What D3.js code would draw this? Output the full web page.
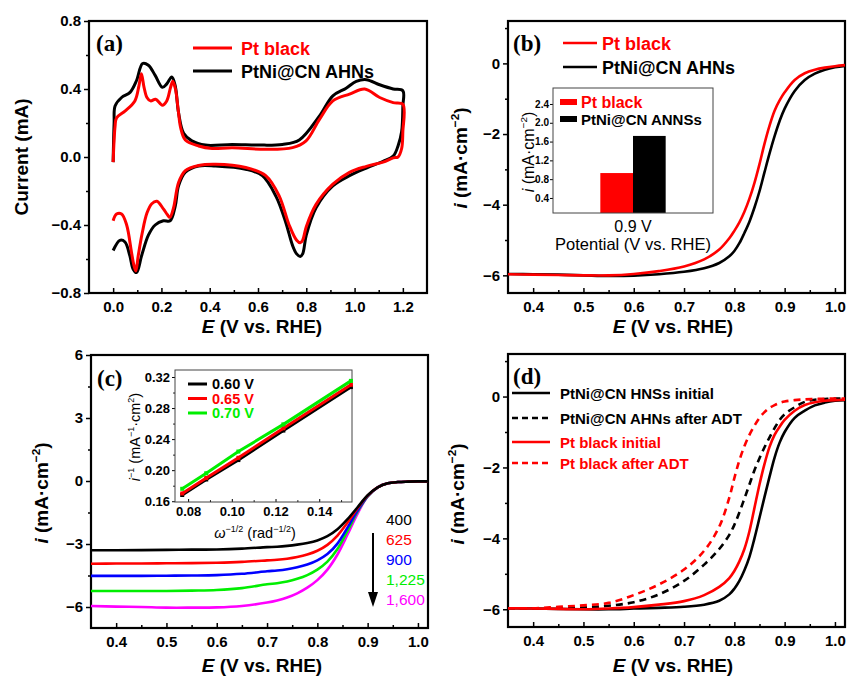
<!DOCTYPE html>
<html>
<head>
<meta charset="utf-8">
<script src="https://cdn.jsdelivr.net/npm/d3@7"></script>
<style>
  body { margin: 0; background: #fff; }
  svg text { font-family: "Liberation Sans", Arial, Helvetica, sans-serif; }
</style>
</head>
<body>
<svg id="fig" width="847" height="676"></svg>
<script>
// ---------- data ----------

// (a) cyclic voltammograms, [E, I] in scan order
const cvPtNi = [[0,-0.03],[0.004,0.2],[0.008,0.30],[0.035,0.35],[0.07,0.38],[0.097,0.45],[0.122,0.55],[0.146,0.54],
  [0.174,0.48],[0.204,0.41],[0.222,0.43],[0.243,0.47],[0.257,0.42],[0.271,0.26],[0.292,0.14],[0.326,0.095],[0.382,0.07],
  [0.493,0.074],[0.604,0.07],[0.701,0.074],[0.771,0.10],[0.854,0.24],[0.91,0.36],[0.965,0.405],[1.007,0.445],[1.049,0.455],
  [1.104,0.425],[1.16,0.40],[1.2,0.39],[1.2,0.30],[1.195,0.15],[1.18,0.065],[1.16,0.005],[1.118,-0.025],[1.049,-0.065],
  [0.979,-0.11],[0.91,-0.17],[0.84,-0.30],[0.80,-0.46],[0.785,-0.57],[0.775,-0.585],[0.76,-0.57],[0.743,-0.52],[0.715,-0.385],
  [0.674,-0.23],[0.618,-0.11],[0.549,-0.072],[0.424,-0.053],[0.354,-0.053],[0.299,-0.09],[0.271,-0.17],[0.257,-0.29],
  [0.236,-0.375],[0.208,-0.375],[0.174,-0.40],[0.146,-0.46],[0.118,-0.58],[0.097,-0.68],[0.083,-0.66],[0.069,-0.58],
  [0.049,-0.50],[0.028,-0.49],[0,-0.55]];
const cvPt = [[0,-0.03],[0.004,0.1],[0.008,0.18],[0.014,0.23],[0.049,0.27],[0.09,0.33],[0.107,0.42],[0.117,0.49],[0.128,0.41],
  [0.14,0.35],[0.155,0.33],[0.176,0.34],[0.204,0.305],[0.222,0.33],[0.238,0.41],[0.247,0.445],[0.258,0.40],[0.27,0.27],
  [0.28,0.17],[0.299,0.10],[0.354,0.065],[0.41,0.05],[0.493,0.055],[0.632,0.045],[0.743,0.055],[0.799,0.095],[0.854,0.22],
  [0.91,0.33],[0.979,0.37],[1.042,0.40],[1.104,0.35],[1.16,0.32],[1.2,0.31],[1.2,0.15],[1.195,0.05],[1.18,0.0],[1.16,-0.005],
  [1.118,-0.03],[1.049,-0.055],[0.979,-0.09],[0.91,-0.16],[0.84,-0.28],[0.80,-0.41],[0.785,-0.49],[0.775,-0.505],[0.76,-0.49],
  [0.729,-0.40],[0.688,-0.23],[0.632,-0.11],[0.549,-0.062],[0.424,-0.043],[0.354,-0.05],[0.299,-0.08],[0.271,-0.15],
  [0.25,-0.30],[0.235,-0.355],[0.225,-0.34],[0.208,-0.305],[0.181,-0.26],[0.16,-0.275],[0.14,-0.33],[0.12,-0.45],
  [0.104,-0.58],[0.094,-0.67],[0.085,-0.63],[0.076,-0.56],[0.056,-0.40],[0.035,-0.335],[0.014,-0.335],[0,-0.375]];

// (b) and (d) polarization curves share one potential grid
const lsvE = [0.35,0.40,0.45,0.50,0.55,0.60,0.65,0.70,0.74,0.77,0.79,0.80,0.81,0.82,0.83,0.84,0.85,0.86,0.87,0.88,0.89,0.90,0.92,0.94,0.96,0.98,1.00,1.02];
const lsvPtBlack = [-5.97,-5.98,-5.99,-6.0,-6.0,-5.96,-5.88,-5.75,-5.55,-5.27,-4.95,-4.74,-4.5,-4.2,-3.83,-3.38,-2.85,-2.27,-1.76,-1.34,-1.05,-0.82,-0.47,-0.28,-0.18,-0.12,-0.08,-0.05];
const lsvPtNi    = [-5.96,-5.97,-5.98,-6.0,-6.02,-6.01,-5.97,-5.9,-5.8,-5.65,-5.46,-5.31,-5.09,-4.8,-4.48,-4.08,-3.62,-3.08,-2.55,-2.06,-1.63,-1.28,-0.78,-0.47,-0.29,-0.18,-0.11,-0.07];

// (b) inset: specific activity at 0.9 V
const barPotentials = ["0.9 V"];
const barSeries = ["Pt black", "PtNi@CN ANNSs"];
const barValues = [0.93, 1.72];

// (c) rotating-disk curves at several rotation rates (rpm)
const rdeE = [0.35,0.40,0.45,0.50,0.55,0.60,0.65,0.70,0.72,0.74,0.76,0.78,0.80,0.82,0.84,0.86,0.88,0.90,0.92,0.94,0.96,0.98,1.00,1.02];
const rdeRates = ["400", "625", "900", "1,225", "1,600"];
const rde400  = [-3.3,-3.3,-3.29,-3.28,-3.27,-3.26,-3.22,-3.15,-3.13,-3.09,-3.03,-2.95,-2.83,-2.63,-2.3,-1.82,-1.25,-0.68,-0.3,-0.11,-0.05,-0.03,-0.02,-0.02];
const rde625  = [-3.94,-3.93,-3.93,-3.92,-3.91,-3.89,-3.85,-3.78,-3.75,-3.7,-3.62,-3.5,-3.32,-3.04,-2.6,-1.98,-1.3,-0.7,-0.3,-0.11,-0.05,-0.03,-0.02,-0.02];
const rde900  = [-4.52,-4.52,-4.52,-4.51,-4.5,-4.48,-4.42,-4.3,-4.26,-4.2,-4.11,-3.98,-3.78,-3.48,-2.98,-2.22,-1.4,-0.72,-0.3,-0.11,-0.05,-0.03,-0.02,-0.02];
const rde1225 = [-5.24,-5.24,-5.24,-5.24,-5.22,-5.19,-5.1,-4.92,-4.87,-4.79,-4.66,-4.48,-4.22,-3.84,-3.24,-2.38,-1.45,-0.73,-0.3,-0.11,-0.05,-0.03,-0.02,-0.02];
const rde1600 = [-5.95,-5.98,-6.0,-6.03,-6.03,-6.02,-5.95,-5.79,-5.69,-5.55,-5.35,-5.08,-4.72,-4.22,-3.5,-2.55,-1.55,-0.74,-0.3,-0.11,-0.05,-0.03,-0.02,-0.02];

// (c) inset: Koutecky-Levich points
const klOmega = [0.0773, 0.0883, 0.1030, 0.1236, 0.1545];
const klLabels = ["0.60 V", "0.65 V", "0.70 V"];
const kl060 = [0.168, 0.188, 0.213, 0.251, 0.307];
const kl065 = [0.170, 0.190, 0.216, 0.254, 0.310];
const kl070 = [0.176, 0.196, 0.224, 0.259, 0.315];

// (d) durability test
const adtNiInit  = [-5.97,-5.98,-5.99,-6.0,-6.0,-5.98,-5.96,-5.93,-5.87,-5.76,-5.58,-5.42,-5.2,-4.9,-4.52,-4.0,-3.42,-2.83,-2.26,-1.72,-1.3,-1.0,-0.6,-0.4,-0.25,-0.17,-0.12,-0.1];
const adtNiAfter = [-5.97,-5.98,-5.97,-5.95,-5.9,-5.8,-5.58,-5.2,-4.74,-4.3,-3.9,-3.62,-3.27,-2.88,-2.48,-2.08,-1.74,-1.43,-1.15,-0.89,-0.66,-0.5,-0.3,-0.15,-0.09,-0.07,-0.06,-0.06];
const adtPtInit  = [-5.97,-5.98,-5.99,-6.0,-5.98,-5.94,-5.87,-5.77,-5.6,-5.37,-5.12,-4.92,-4.65,-4.3,-3.8,-3.14,-2.48,-1.9,-1.42,-1.08,-0.85,-0.66,-0.4,-0.24,-0.16,-0.12,-0.1,-0.09];
const adtPtAfter = [-5.97,-5.97,-5.93,-5.89,-5.82,-5.6,-5.3,-4.88,-4.35,-3.67,-2.85,-2.3,-1.8,-1.4,-1.08,-0.82,-0.6,-0.44,-0.32,-0.24,-0.18,-0.14,-0.1,-0.08,-0.07,-0.06,-0.06,-0.06];
const adtLabels = ["PtNi@CN HNSs initial", "PtNi@CN AHNs after ADT", "Pt black initial", "Pt black after ADT"];

const RED = "#ff0000", GREEN = "#00ee00", BLUE = "#0000ff", MAGENTA = "#ff00ff";

// ---------- helpers ----------
const svg = d3.select("#fig");

function drawAxes(g, box, x, y, c) {
  const ax = g.append("g").attr("transform", `translate(0,${box.b})`)
    .call(d3.axisBottom(x).tickValues(c.xt).tickSize(-c.tick).tickSizeOuter(0).tickPadding(c.tick + c.pad).tickFormat(c.fx));
  const ay = g.append("g").attr("transform", `translate(${box.l},0)`)
    .call(d3.axisLeft(y).tickValues(c.yt).tickSize(c.tick).tickSizeOuter(0).tickPadding(c.pad).tickFormat(c.fy));
  g.append("g").attr("transform", `translate(0,${box.b})`)
    .call(d3.axisBottom(x).tickValues(c.xm).tickSize(-c.tick * 0.6).tickSizeOuter(0).tickFormat(""));
  g.append("g").attr("transform", `translate(${box.l},0)`)
    .call(d3.axisLeft(y).tickValues(c.ym).tickSize(c.tick * 0.6).tickSizeOuter(0).tickFormat(""));
  g.selectAll(".domain").remove();
  g.selectAll(".tick line").attr("stroke", "#000").attr("stroke-width", c.tw);
  [ax, ay].forEach(a => a.selectAll("text").attr("font-size", c.fs).attr("font-weight", c.fw)
    .attr("fill", "#000").style("font-family", '"Liberation Sans", Arial, sans-serif'));
  g.append("rect").attr("x", box.l).attr("y", box.t).attr("width", box.r - box.l).attr("height", box.b - box.t)
    .attr("fill", "none").attr("stroke", c.frame).attr("stroke-width", c.fw2);
}

// text with italic / superscript parts
function rich(sel, parts, fs) {
  let shift = 0;
  parts.forEach(p => {
    const t = sel.append("tspan").text(p.t);
    const target = p.sup ? -fs * 0.42 : 0;
    if (target !== shift) { t.attr("dy", target - shift); shift = target; }
    if (p.sup) t.attr("font-size", fs * 0.62);
    if (p.it) t.attr("font-style", "italic");
  });
  return sel;
}

function xTitle(g, cx, yb, fs) {
  rich(g.append("text").attr("x", cx).attr("y", yb).attr("text-anchor", "middle")
    .attr("font-size", fs).attr("font-weight", "bold"),
    [{t: "E", it: true}, {t: " (V vs. RHE)"}], fs);
}

function yTitle(g, cx, cy, fs, parts, weight) {
  rich(g.append("text").attr("transform", `translate(${cx},${cy}) rotate(-90)`).attr("text-anchor", "middle")
    .attr("font-size", fs).attr("font-weight", weight || "bold"), parts, fs);
}

function panelTag(g, x, y, s) {
  g.append("text").attr("x", x).attr("y", y).text(s).attr("font-size", 23).attr("font-weight", "bold")
    .style("font-family", '"Liberation Serif", "Times New Roman", serif');
}

const iLabel = [{t: "i", it: true}, {t: " (mA·cm"}, {t: "−2", sup: true}, {t: ")"}];
const fmt1 = d3.format(".1f"), fmt0 = d3.format("d"), fmt2 = d3.format(".2f");
const lsvTicks = {xt: [0.4,0.5,0.6,0.7,0.8,0.9,1.0], xm: [0.45,0.55,0.65,0.75,0.85,0.95], fx: fmt1,
  tick: 5, pad: 3, fs: 15, fw: "bold", tw: 1.5, frame: "#000", fw2: 2.2};

// ---------- (a) CV ----------
{
  const box = {l: 89, t: 21, r: 427, b: 293};
  const x = d3.scaleLinear().domain([-0.1, 1.3]).range([box.l, box.r]);
  const y = d3.scaleLinear().domain([-0.8, 0.8]).range([box.b, box.t]);
  const g = svg.append("g");
  drawAxes(g, box, x, y, {xt: [0,0.2,0.4,0.6,0.8,1.0,1.2], xm: [0.1,0.3,0.5,0.7,0.9,1.1], fx: fmt1,
    yt: [-0.8,-0.4,0,0.4,0.8], ym: [-0.6,-0.2,0.2,0.6], fy: fmt1,
    tick: 5, pad: 3, fs: 15, fw: "bold", tw: 1.5, frame: "#000", fw2: 2.2});
  const line = d3.line().x(d => x(d[0])).y(d => y(d[1])).curve(d3.curveCatmullRom.alpha(0.5));
  [[cvPtNi, "#000"], [cvPt, RED]].forEach(([d, c]) =>
    g.append("path").attr("d", line(d)).attr("fill", "none").attr("stroke", c).attr("stroke-width", 3).attr("stroke-linejoin", "round"));
  panelTag(g, 96, 51, "(a)");
  const leg = [["Pt black", RED], ["PtNi@CN AHNs", "#000"]];
  leg.forEach(([s, c], i) => {
    const yy = 48 + i * 23;
    g.append("line").attr("x1", 193).attr("x2", 232).attr("y1", yy).attr("y2", yy).attr("stroke", c).attr("stroke-width", 3);
    g.append("text").attr("x", 241).attr("y", yy + 7).text(s).attr("fill", c).attr("font-size", 18).attr("font-weight", "bold");
  });
  xTitle(g, 262, 333, 19);
  yTitle(g, 28, 157, 19, [{t: "Current (mA)"}]);
}

// ---------- (b) LSV ----------
{
  const box = {l: 508, t: 21, r: 845, b: 293};
  const x = d3.scaleLinear().domain([0.35, 1.02]).range([box.l, box.r]);
  const y = d3.scaleLinear().domain([-6.5, 1.2]).range([box.b, box.t]);
  const g = svg.append("g");
  drawAxes(g, box, x, y, Object.assign({}, lsvTicks, {yt: [-6,-4,-2,0], ym: [-5,-3,-1,1], fy: fmt0}));
  const line = d3.line().x(d => x(d[0])).y(d => y(d[1])).curve(d3.curveCatmullRom.alpha(0.5));
  [[lsvPtNi, "#000"], [lsvPtBlack, RED]].forEach(([v, c]) =>
    g.append("path").attr("d", line(d3.zip(lsvE, v))).attr("fill", "none").attr("stroke", c).attr("stroke-width", 2.6));
  panelTag(g, 513, 51, "(b)");
  [["Pt black", RED], ["PtNi@CN AHNs", "#000"]].forEach(([s, c], i) => {
    const yy = 43 + i * 24;
    g.append("line").attr("x1", 563).attr("x2", 597).attr("y1", yy).attr("y2", yy).attr("stroke", c).attr("stroke-width", 2.5);
    g.append("text").attr("x", 602).attr("y", yy + 7).text(s).attr("fill", c).attr("font-size", 18).attr("font-weight", "bold");
  });
  xTitle(g, 673, 333, 19);
  yTitle(g, 467, 158, 19, iLabel);

  // inset bar chart
  const ib = {l: 553, t: 88, r: 713, b: 213};
  const gi = svg.append("g");
  gi.append("rect").attr("x", ib.l).attr("y", ib.t).attr("width", ib.r - ib.l).attr("height", ib.b - ib.t).attr("fill", "#fff");
  const x0 = d3.scaleBand().domain(barPotentials).range([ib.l, ib.r]).padding(0.42);
  const x1 = d3.scaleBand().domain(barSeries).range([0, x0.bandwidth()]);
  const yi = d3.scaleLinear().domain([0.08, 2.74]).range([ib.b, ib.t]);
  const bc = d3.scaleOrdinal().domain(barSeries).range([RED, "#000"]);
  gi.selectAll(".bar").data(barSeries.map((s, i) => ({p: barPotentials[0], s, v: barValues[i]}))).enter()
    .append("rect").attr("x", d => x0(d.p) + x1(d.s)).attr("width", x1.bandwidth())
    .attr("y", d => yi(d.v)).attr("height", d => ib.b - yi(d.v)).attr("fill", d => bc(d.s));
  const ayi = gi.append("g").attr("transform", `translate(${ib.l},0)`)
    .call(d3.axisLeft(yi).tickValues([0.4,0.8,1.2,1.6,2.0,2.4]).tickSize(3).tickSizeOuter(0).tickPadding(1).tickFormat(fmt1));
  ayi.select(".domain").remove();
  ayi.selectAll("text").attr("font-size", 10).attr("font-weight", "bold").style("font-family", '"Liberation Sans", Arial, sans-serif');
  gi.append("rect").attr("x", ib.l).attr("y", ib.t).attr("width", ib.r - ib.l).attr("height", ib.b - ib.t)
    .attr("fill", "none").attr("stroke", "#444").attr("stroke-width", 1);
  barSeries.forEach((s, i) => {
    const yy = 102 + i * 17;
    gi.append("rect").attr("x", 560).attr("y", yy - 3).attr("width", 17).attr("height", 6).attr("fill", bc(s));
    gi.append("text").attr("x", 581).attr("y", yy + 6).text(s).attr("fill", i ? "#000" : RED)
      .attr("font-size", i ? 15 : 16).attr("font-weight", "bold");
  });
  gi.append("text").attr("x", x0(barPotentials[0]) + x0.bandwidth() / 2).attr("y", 232).attr("text-anchor", "middle")
    .text(barPotentials[0]).attr("font-size", 16);
  gi.append("text").attr("x", 633).attr("y", 250).attr("text-anchor", "middle")
    .text("Potential (V vs. RHE)").attr("font-size", 16.5);
  yTitle(gi, 534, 152, 16, iLabel, "normal");
}

// ---------- (c) RDE ----------
{
  const box = {l: 91, t: 355, r: 428, b: 628};
  const x = d3.scaleLinear().domain([0.35, 1.02]).range([box.l, box.r]);
  const y = d3.scaleLinear().domain([-7, 6]).range([box.b, box.t]);
  const g = svg.append("g");
  drawAxes(g, box, x, y, Object.assign({}, lsvTicks, {yt: [-6,-3,0,3,6], ym: [-4.5,-1.5,1.5,4.5], fy: fmt0}));
  const line = d3.line().x(d => x(d[0])).y(d => y(d[1])).curve(d3.curveCatmullRom.alpha(0.5));
  const cols = ["#000", RED, BLUE, GREEN, MAGENTA];
  [rde1600, rde1225, rde900, rde625, rde400].forEach((v, i) =>
    g.append("path").attr("d", line(d3.zip(rdeE, v))).attr("fill", "none").attr("stroke", cols[4 - i]).attr("stroke-width", 2.6));
  panelTag(g, 97, 386, "(c)");
  rdeRates.forEach((s, i) => g.append("text").attr("x", 386).attr("y", 525 + i * 20).text(s)
    .attr("fill", cols[i]).attr("font-size", 15.5));
  g.append("line").attr("x1", 373).attr("x2", 373).attr("y1", 533).attr("y2", 594).attr("stroke", "#000").attr("stroke-width", 2);
  g.append("path").attr("d", "M368,592 L378,592 L373,607 Z").attr("fill", "#000");
  xTitle(g, 262, 672, 19);
  yTitle(g, 48, 493, 19, iLabel);

  // inset K-L plot
  const ib = {l: 175, t: 370, r: 352, b: 502};
  const gi = svg.append("g");
  gi.append("rect").attr("x", ib.l).attr("y", ib.t).attr("width", ib.r - ib.l).attr("height", ib.b - ib.t).attr("fill", "#fff");
  const xi = d3.scaleLinear().domain([0.074, 0.155]).range([ib.l, ib.r]);
  const yi = d3.scaleLinear().domain([0.159, 0.329]).range([ib.b, ib.t]);
  drawAxes(gi, ib, xi, yi, {xt: [0.08,0.10,0.12,0.14], xm: [0.09,0.11,0.13,0.15], fx: fmt2,
    yt: [0.16,0.20,0.24,0.28,0.32], ym: [0.18,0.22,0.26,0.30], fy: fmt2,
    tick: 3, pad: 2, fs: 13, fw: "bold", tw: 1, frame: "#444", fw2: 1});
  const kl = d3.line().x(d => xi(d[0])).y(d => yi(d[1]));
  const kc = ["#000", RED, GREEN];
  [kl060, kl065, kl070].forEach((v, i) => {
    gi.append("path").attr("d", kl(d3.zip(klOmega, v))).attr("fill", "none").attr("stroke", kc[i]).attr("stroke-width", 3);
    gi.selectAll(null).data(d3.zip(klOmega, v)).enter().append("rect")
      .attr("x", d => xi(d[0]) - 2).attr("y", d => yi(d[1]) - 2).attr("width", 4).attr("height", 4).attr("fill", kc[i]);
  });
  klLabels.forEach((s, i) => {
    const yy = 384 + i * 14.5;
    gi.append("line").attr("x1", 188).attr("x2", 207).attr("y1", yy).attr("y2", yy).attr("stroke", kc[i]).attr("stroke-width", 3);
    gi.append("text").attr("x", 212).attr("y", yy + 5).text(s).attr("fill", kc[i]).attr("font-size", 14.5).attr("font-weight", "bold");
  });
  rich(gi.append("text").attr("x", 255).attr("y", 538).attr("text-anchor", "middle").attr("font-size", 14.5),
    [{t: "ω", it: true}, {t: "−1/2", sup: true}, {t: " (rad"}, {t: "−1/2", sup: true}, {t: ")"}], 14.5);
  yTitle(gi, 140, 437, 14.5, [{t: "i", it: true}, {t: "−1", sup: true}, {t: " (mA"}, {t: "−1", sup: true}, {t: "·cm"}, {t: "2", sup: true}, {t: ")"}], "normal");
}

// ---------- (d) ADT ----------
{
  const box = {l: 508, t: 354, r: 845, b: 627};
  const x = d3.scaleLinear().domain([0.35, 1.02]).range([box.l, box.r]);
  const y = d3.scaleLinear().domain([-6.5, 1.2]).range([box.b, box.t]);
  const g = svg.append("g");
  drawAxes(g, box, x, y, Object.assign({}, lsvTicks, {yt: [-6,-4,-2,0], ym: [-5,-3,-1,1], fy: fmt0}));
  const line = d3.line().x(d => x(d[0])).y(d => y(d[1])).curve(d3.curveCatmullRom.alpha(0.5));
  const styles = [["#000", null], ["#000", "7,5"], [RED, null], [RED, "7,5"]];
  [adtNiInit, adtNiAfter, adtPtInit, adtPtAfter].forEach((v, i) =>
    g.append("path").attr("d", line(d3.zip(lsvE, v))).attr("fill", "none").attr("stroke", styles[i][0])
      .attr("stroke-width", 2.6).attr("stroke-dasharray", styles[i][1]));
  panelTag(g, 513, 384, "(d)");
  adtLabels.forEach((s, i) => {
    const yy = [393, 418, 442, 463][i];
    g.append("line").attr("x1", 512).attr("x2", 550).attr("y1", yy).attr("y2", yy)
      .attr("stroke", styles[i][0]).attr("stroke-width", 2.6).attr("stroke-dasharray", styles[i][1] ? "6,4" : null);
    g.append("text").attr("x", 560).attr("y", yy + 5.5).text(s).attr("fill", styles[i][0])
      .attr("font-size", 15).attr("font-weight", "bold");
  });
  xTitle(g, 673, 672, 19);
  yTitle(g, 464, 494, 19, iLabel);
}
</script>
</body>
</html>
